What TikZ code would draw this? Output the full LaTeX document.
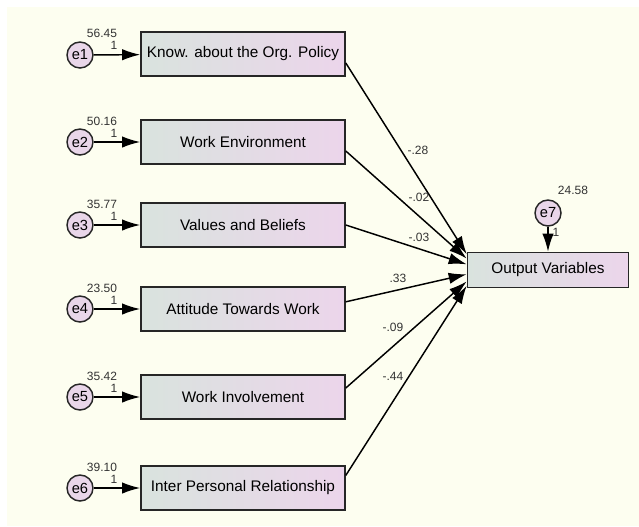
\documentclass[tikz,border=0pt]{standalone}
\usepackage{fontspec}
\setmainfont{Liberation Sans}
\usetikzlibrary{arrows.meta}
\definecolor{paper}{HTML}{FDFEF0}
\definecolor{boxleft}{HTML}{D9E3DE}
\definecolor{boxright}{HTML}{ECD5EB}
\definecolor{errfill}{HTML}{E9D6E9}
\definecolor{numgray}{HTML}{333333}

\begin{document}
\begin{tikzpicture}[x=0.75pt, y=-0.75pt,
        main/.style = {draw=black!85, line width=1.1pt, circle, fill=errfill, minimum size=19.5pt, inner sep=0pt, font=\fontsize{11}{12}\selectfont},
        obs/.style = {draw=black!85, line width=1.2pt, rectangle, left color=boxleft, right color=boxright, minimum width=153pt, minimum height=33pt, font=\fontsize{11.5}{13}\selectfont},
        num/.style = {inner sep=0pt, text=numgray, font=\fontsize{9}{10}\selectfont},
        path/.style = {line width=1.1pt, -{Latex[length=13.5pt, width=8.5pt]}}]
            \fill[paper] (7,7) rectangle (639,526);
            \useasboundingbox (0,0) rectangle (639,526);

            % observed variables
            \node[obs] (K1) at (243,54) {Know. about the Org. Policy};
            \node[obs] (K2) at (243,142) {Work Environment};
            \node[obs] (K3) at (243,225) {Values and Beliefs};
            \node[obs] (K4) at (243,309) {Attitude Towards Work};
            \node[obs] (K5) at (243,397) {Work Involvement};
            \node[obs] (K6) at (243,488) {Inter Personal Relationship};
            \node[obs, minimum width=120.75pt, minimum height=26.25pt] (Out) at (548,270) {Output Variables};

            % error terms
            \node[main] (E1) at (80,55) {e1};
            \node[main] (E2) at (80,142) {e2};
            \node[main] (E3) at (80,225) {e3};
            \node[main] (E4) at (80,309) {e4};
            \node[main] (E5) at (80,397) {e5};
            \node[main] (E6) at (80,488) {e6};
            \node[main] (E7) at (548,213) {e7};

            \path[path] (E1) edge (K1);
            \path[path] (E2) edge (K2);
            \path[path] (E3) edge (K3);
            \path[path] (E4) edge (K4);
            \path[path] (E5) edge (K5);
            \path[path] (E6) edge (K6);
            \path[path] (E7) edge (Out);

            % variances and fixed weights
            \node[num] (v1) at (102,33) {56.45};
            \node[num] (w1) at (114,45) {1};
            \node[num] (v2) at (102,121) {50.16};
            \node[num] (w2) at (114,133) {1};
            \node[num] (v3) at (102,204) {35.77};
            \node[num] (w3) at (114,216) {1};
            \node[num] (v4) at (102,288) {23.50};
            \node[num] (w4) at (114,300) {1};
            \node[num] (v5) at (102,376) {35.42};
            \node[num] (w5) at (114,388) {1};
            \node[num] (v6) at (102,467) {39.10};
            \node[num] (w6) at (114,479) {1};
            \node[num] (v7) at (573,190) {24.58};
            \node[num] (w7) at (556,232) {1};

            % regression weights
            \path[path] (K1.-5) edge (Out.169);
            \path[path] (K2.-5.6) edge (Out.172);
            \path[path] (K3.east) edge (Out.176);
            \path[path] (K4.4.5) edge (Out.183);
            \path[path] (K5.5) edge (Out.188);
            \path[path] (K6.7.3) edge (Out.191);

            \node[num] (b1) at (418,150) {-.28};
            \node[num] (b2) at (419,197) {-.02};
            \node[num] (b3) at (419,237) {-.03};
            \node[num] (b4) at (398,278) {.33};
            \node[num] (b5) at (393,327) {-.09};
            \node[num] (b6) at (393,376) {-.44};
        \end{tikzpicture}
\end{document}
